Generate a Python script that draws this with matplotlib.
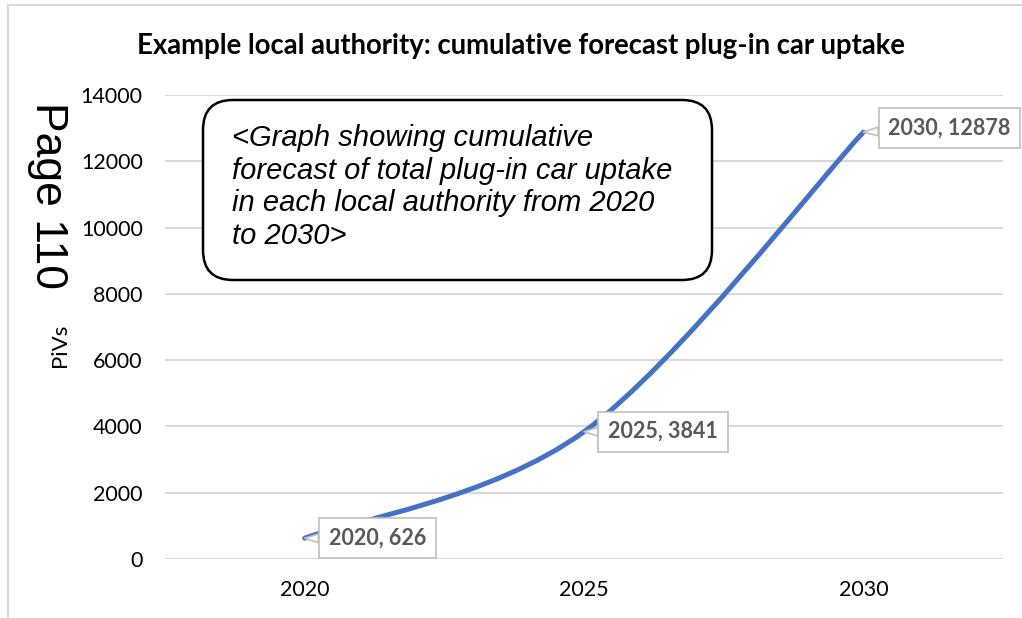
import matplotlib.pyplot as plt
from matplotlib.patches import FancyBboxPatch, PathPatch
from matplotlib.path import Path
import numpy as np

years = ['2020', '2025', '2030']
pivs = [626, 3841, 12878]
y_ticks = [0, 2000, 4000, 6000, 8000, 10000, 12000, 14000]

title = 'Example local authority: cumulative forecast plug-in car uptake'
note = ('<Graph showing cumulative\n'
        'forecast of total plug-in car uptake\n'
        'in each local authority from 2020\n'
        'to 2030>')

line_colour = '#4472C4'
grid_colour = '#D9D9D9'
label_colour = '#595959'


def smooth_path(xs, ys):
    """Bezier path like Excel's smoothed line, built in data coords."""
    pts = np.column_stack([xs, ys]).astype(float)
    n = len(pts)
    verts = [pts[0]]
    codes = [Path.MOVETO]
    for i in range(n - 1):
        prev = pts[i - 1] if i > 0 else pts[i]
        nxt = pts[i + 2] if i + 2 < n else pts[i + 1]
        c1 = pts[i] + (pts[i + 1] - prev) / 6
        c2 = pts[i + 1] - (nxt - pts[i]) / 6
        verts += [c1, c2, pts[i + 1]]
        codes += [Path.CURVE4] * 3
    return Path(verts, codes)


fig = plt.figure(figsize=(10.22, 6.18), dpi=100)
ax = fig.add_axes([165 / 1022, 1 - 559 / 618, 838 / 1022, 464 / 618])

x = np.arange(len(years))
ax.add_patch(PathPatch(smooth_path(x, pivs), fc='none', ec=line_colour,
                       lw=3.6, capstyle='round', zorder=3))
ax.set_xlim(-0.5, len(years) - 0.5)
ax.set_ylim(0, 14000)
ax.set_yticks(y_ticks)
ax.set_xticks(x, years)

ax.grid(axis='y', color=grid_colour, lw=1.5)
ax.set_axisbelow(True)
for s in ax.spines.values():
    s.set_visible(False)
ax.tick_params(length=0, labelsize=15.5)
ax.tick_params(axis='y', pad=16)
ax.tick_params(axis='x', pad=15)
for lab in ax.get_xticklabels() + ax.get_yticklabels():
    lab.set_fontfamily('Lato')

# data callouts
offsets = [(24, 0), (24, 0), (25, 4)]
for xi, v, yr, off in zip(x, pivs, years, offsets):
    ax.annotate(f'{yr}, {v}', xy=(xi, v), xytext=off, textcoords='offset pixels',
                ha='left', va='center', fontsize=15.5, fontweight='bold',
                fontfamily='Lato', color=label_colour, zorder=5,
                bbox=dict(boxstyle='square,pad=0.45', fc='white', ec='#BFBFBF', lw=1.2),
                arrowprops=dict(arrowstyle='wedge,tail_width=0.4,shrink_factor=0.5',
                                fc='white', ec='#BFBFBF', lw=1.2,
                                shrinkA=0, shrinkB=0))

# overlay in pixel coords for the frame, the note box and side texts
over = fig.add_axes([0, 0, 1, 1], zorder=10)
over.set_xlim(0, 1022)
over.set_ylim(618, 0)
over.axis('off')
over.patch.set_alpha(0)

over.plot([8, 1022], [5, 5], color=grid_colour, lw=1.5)
over.plot([8, 8], [5, 618], color=grid_colour, lw=1.5)

over.text(521, 46, title, ha='center', va='center', fontsize=19.8,
          fontweight='bold', fontfamily='Lato')

over.add_patch(FancyBboxPatch((203, 100), 509, 180,
                              boxstyle='round,pad=0,rounding_size=30',
                              fc='white', ec='black', lw=1.8))
over.text(232, 187, note, ha='left', va='center', fontsize=21,
          fontstyle='italic', fontfamily='Liberation Sans', linespacing=1.2)

over.text(47, 195, 'Page 110', rotation=-90, ha='center', va='center',
          fontsize=32, fontfamily='Liberation Sans')
over.text(60, 345, 'PiVs', rotation=90, ha='center', va='center',
          fontsize=16, fontfamily='Lato')

fig.savefig('out.png', dpi=100)
